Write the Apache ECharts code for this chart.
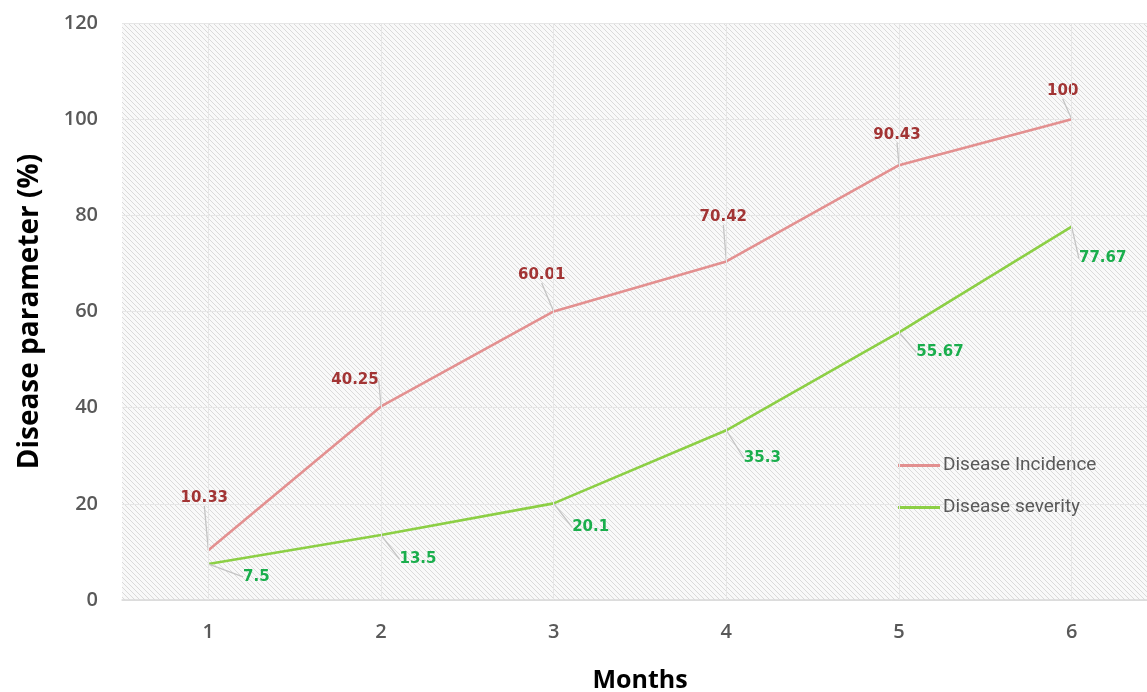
<!DOCTYPE html>
<html><head><meta charset="utf-8">
<script src="https://cdn.jsdelivr.net/npm/echarts@6/dist/echarts.min.js"></script>
<style>html,body{margin:0;padding:0;background:#fff;overflow:hidden}#c{width:1147px;height:692px}</style>
</head><body><div id="c"></div>
<script>
const months = ['1','2','3','4','5','6'];
const incidence = [10.33, 40.25, 60.01, 70.42, 90.43, 100];
const severity = [7.5, 13.5, 20.1, 35.3, 55.67, 77.67];
const yTicks = [0, 20, 40, 60, 80, 100, 120];

// label offsets in px (style only)
const incOff = [[-4,-52],[-26,-26],[-12,-36],[-3,-44],[-2,-30],[-9,-28]];
const sevOff = [[48,13],[37,24],[37,24],[36,28],[41,20],[31,32]];

const pc = document.createElement('canvas');
pc.width = 5; pc.height = 5;
const g = pc.getContext('2d');
g.fillStyle = '#f9f9f9'; g.fillRect(0,0,5,5);
g.strokeStyle = '#dadada'; g.lineWidth = 1.0;
g.beginPath(); g.moveTo(-1,-1); g.lineTo(6,6); g.moveTo(-1,4); g.lineTo(1,6); g.moveTo(4,-1); g.lineTo(6,1); g.stroke();

const chart = echarts.init(document.getElementById('c'));
function mkSeries(name, data, color, labelColor, off){
  return {
    name, type:'line', data, symbol:'circle', symbolSize:1, showSymbol:true,
    lineStyle:{color, width:2.6}, itemStyle:{color},
    label:{show:true, position:'inside', color:labelColor, fontFamily:'DejaVu Sans', fontSize:15, fontWeight:'bold', padding:[4,5]},
    labelLine:{show:true, lineStyle:{color:'#c4c4c4', width:1.3}},
    labelLayout:function(p){ const o = off[p.dataIndex]; return {dx:o[0], dy:o[1]}; },
    z:3
  };
}
const gridLines = {
  name:'grid', type:'line', data:[], silent:true,
  markLine:{symbol:'none', silent:true, label:{show:false},
    lineStyle:{color:'#e6e6e6', width:1, type:'solid'},
    data: months.map(m=>({xAxis:m}))}
};
chart.setOption({
  animation:false,
  grid:{left:122, right:-11, top:23, bottom:92, show:true, borderWidth:0, outerBoundsMode:'none', containLabel:false,
    backgroundColor:{image:pc, repeat:'repeat'}},
  legend:{orient:'vertical', left:893, top:451, itemGap:23, itemWidth:42, itemHeight:3,
    data:[{name:'Disease Incidence', icon:'rect'},{name:'Disease severity', icon:'rect'}],
    textStyle:{color:'#595959', fontFamily:'Roboto', fontSize:19, padding:[0,0,0,-2]}},
  xAxis:{type:'category', data:months, boundaryGap:true,
    axisLine:{lineStyle:{color:'#d9d9d9', width:1.5}}, axisTick:{show:false},
    axisLabel:{color:'#595959', fontFamily:'Open Sans', fontWeight:600, fontSize:20, margin:22},
    splitLine:{show:false},
    name:'Months', nameLocation:'middle', nameGap:68,
    nameTextStyle:{color:'#000', fontFamily:'Open Sans', fontWeight:'bold', fontSize:25}},
  yAxis:{type:'value', min:yTicks[0], max:yTicks[yTicks.length-1], interval:20,
    axisLine:{show:false}, axisTick:{show:false},
    axisLabel:{color:'#595959', fontFamily:'Open Sans', fontWeight:600, fontSize:20, margin:24},
    splitLine:{lineStyle:{color:'#e6e6e6', width:1}},
    name:'Disease parameter (%)', nameLocation:'middle', nameGap:78, nameRotate:90,
    nameTextStyle:{color:'#000', fontFamily:'Open Sans', fontWeight:'bold', fontSize:28}},
  series:[
    gridLines,
    mkSeries('Disease Incidence', incidence, '#e39090', '#a23434', incOff),
    mkSeries('Disease severity', severity, '#8ccf45', '#1aae4c', sevOff)
  ]
});
</script></body></html>
